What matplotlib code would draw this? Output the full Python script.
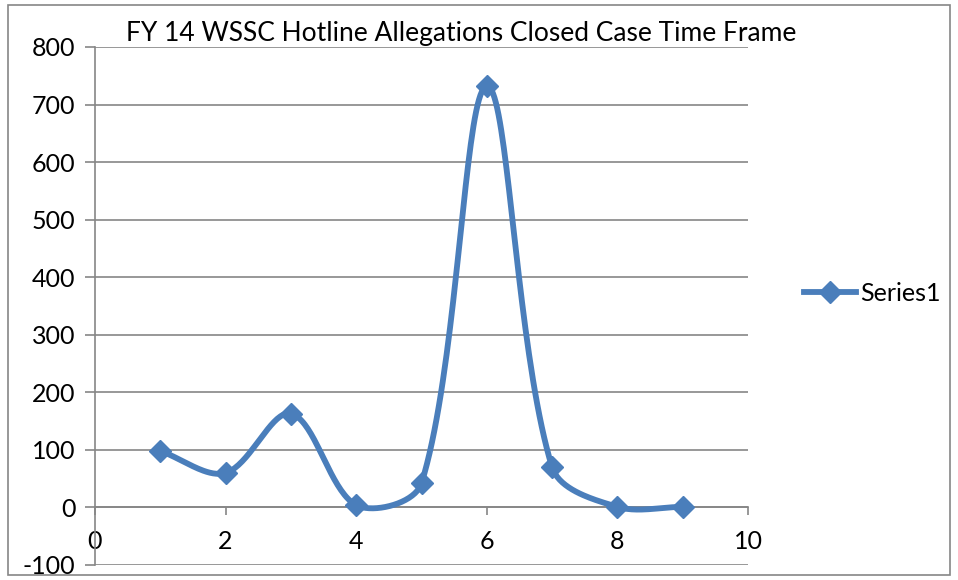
import numpy as np
import matplotlib.pyplot as plt
from matplotlib.patches import Rectangle

plt.rcParams['font.family'] = ['Lato', 'DejaVu Sans']
plt.rcParams['axes.unicode_minus'] = False

# Data
x_vals = [1, 2, 3, 4, 5, 6, 7, 8, 9]
y_vals = [98, 60, 163, 4, 42, 732, 70, 1, 1]
series_name = 'Series1'
title = 'FY 14 WSSC Hotline Allegations Closed Case Time Frame'

LINE_COLOR = '#4a7ebb'

# axes box in pixels
AX_L, AX_R, AX_T, AX_B = 95, 748, 47, 565
X_LIM = (0, 10)
Y_LIM = (-100, 800)


def smooth(xs, ys, steps=40):
    """ Excel-style smoothed line: cubic Bezier with chord-length weighted
        control points, worked out in screen pixels.
    """
    sx = (AX_R - AX_L) / (X_LIM[1] - X_LIM[0])
    sy = (AX_B - AX_T) / (Y_LIM[1] - Y_LIM[0])
    p = np.column_stack([np.asarray(xs) * sx, np.asarray(ys) * sy]).astype(float)
    p = np.vstack([p[0], p, p[-1]])
    t = np.linspace(0, 1, steps)[:, None]
    out = []
    for i in range(1, len(p) - 2):
        p0, p1, p2, p3 = p[i - 1], p[i], p[i + 1], p[i + 2]
        d01 = np.linalg.norm(p1 - p0)
        d12 = np.linalg.norm(p2 - p1)
        d23 = np.linalg.norm(p3 - p2)
        c1 = p1 + (p2 - p0) * d12 / (d01 + d12) / 3
        c2 = p2 - (p3 - p1) * d12 / (d12 + d23) / 3
        seg = ((1 - t) ** 3) * p1 + 3 * ((1 - t) ** 2) * t * c1 \
            + 3 * (1 - t) * t ** 2 * c2 + t ** 3 * p2
        out.append(seg if i == 1 else seg[1:])
    out = np.vstack(out)
    return out[:, 0] / sx, out[:, 1] / sy


fig = plt.figure(figsize=(9.58, 5.8), dpi=100)
ax = fig.add_axes([AX_L / 958, 1 - AX_B / 580, (AX_R - AX_L) / 958, (AX_B - AX_T) / 580])

cx, cy = smooth(x_vals, y_vals)
ax.plot(cx, cy, color=LINE_COLOR, lw=4.2, solid_capstyle='round', zorder=3)
ax.plot(x_vals, y_vals, ls='none', marker='D', ms=11.5, color=LINE_COLOR, zorder=4)

ax.set_xlim(*X_LIM)
ax.set_ylim(*Y_LIM)
ax.set_yticks(np.arange(-100, 801, 100))
ax.set_xticks(np.arange(0, 11, 2))

# horizontal gridlines
for yv in np.arange(-100, 801, 100):
    ax.axhline(yv, color='#868686', lw=1.2, zorder=1)

for side in ['top', 'right']:
    ax.spines[side].set_visible(False)
ax.spines['left'].set_color('#868686')
ax.spines['left'].set_linewidth(1.2)

# x axis crosses at zero
ax.spines['bottom'].set_position(('data', 0))
ax.spines['bottom'].set_color('#868686')
ax.spines['bottom'].set_linewidth(1.2)

ax.tick_params(axis='y', direction='out', length=7, width=1.2, color='#868686',
               labelsize=18, pad=7)
ax.tick_params(axis='x', direction='out', length=6, width=1.2, color='#868686',
               labelsize=18, pad=10)

fig.text(461 / 958, 1 - 33 / 580, title, ha='center', va='center', fontsize=19)

# legend
ax.plot([], [], color=LINE_COLOR, lw=4.2, marker='D', ms=11.5, label=series_name)
ax.legend(loc='center left', bbox_to_anchor=(1.07, 0.525), frameon=False,
          fontsize=18, handlelength=2.1, handletextpad=0.15, borderaxespad=0)

# outer chart border
fig.patches.append(Rectangle((8 / 958, 5 / 580), 942 / 958, 570 / 580,
                             transform=fig.transFigure, fill=False,
                             edgecolor='#868686', lw=1.2))

fig.savefig('out.png', dpi=100)
